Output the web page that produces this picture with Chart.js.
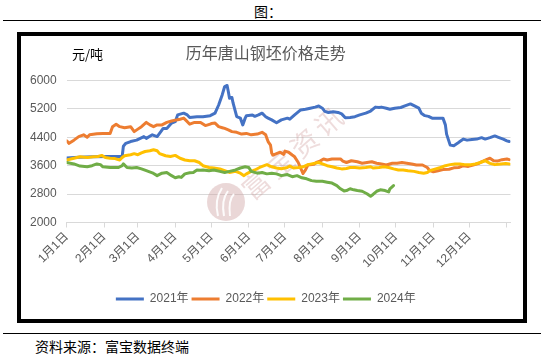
<!DOCTYPE html>
<html><head><meta charset="utf-8">
<script src="https://cdn.jsdelivr.net/npm/chart.js@4/dist/chart.umd.min.js"></script>
<style>
html,body{margin:0;padding:0;background:#fff;width:550px;height:361px;overflow:hidden;}
body{position:relative;font-family:"Noto Sans CJK SC","Liberation Sans",sans-serif;}
#hdr{position:absolute;left:0;width:536px;top:3px;text-align:center;font-size:14px;color:#000;line-height:16px;}
.rule{position:absolute;left:3px;width:538px;height:0;border-top:1.5px solid #000;}
#box{position:absolute;left:17px;top:32px;width:502px;height:283px;border:4px solid #000;}
#wrap{position:absolute;left:0;top:0;width:502px;height:283px;}
#unit{position:absolute;left:51px;top:10px;font-size:13px;color:#000;line-height:16px;}
#src{position:absolute;left:35px;top:338px;font-size:14px;color:#000;line-height:16px;}
</style></head>
<body>
<div id="hdr">图：</div>
<div class="rule" style="top:20px"></div>
<div id="box"><div id="wrap"><canvas id="c" width="502" height="283"></canvas></div><div id="unit">元/吨</div></div>
<div class="rule" style="top:333px"></div>
<div id="src">资料来源：富宝数据终端</div>
<script>
const chartTitle = '历年唐山钢坯价格走势';
const seriesNames = ['2021年','2022年','2023年','2024年'];
const seriesColors = ['#4472C4','#ED7D31','#FFC000','#70AD47'];
const monthStartDays = [0,31,59,90,120,151,181,212,243,273,304,334,365];
const monthLabels = ['1月1日','2月1日','3月1日','4月1日','5月1日','6月1日','7月1日','8月1日','9月1日','10月1日','11月1日','12月1日',''];
const yTicks = [2000,2800,3600,4400,5200,6000];

// [day of year, price]
const s2021 = [[0,3820],[10,3840],[22,3850],[35,3860],[46,3860],[47,4150],[49,4230],[53,4280],[58,4320],[64,4420],[66,4370],[71,4470],[75,4420],[77,4510],[80,4650],[83,4650],[87,4800],[90,4840],[92,5030],[97,5080],[100,5030],[102,4960],[108,4980],[113,4980],[119,5010],[123,5080],[126,5310],[129,5600],[131,5830],[133,5860],[134,5690],[135,5500],[137,5520],[138,5360],[141,4980],[144,4940],[146,4750],[148,4940],[149,5010],[154,5030],[156,4990],[159,5030],[162,5080],[165,4980],[167,4940],[170,4890],[174,4810],[178,4890],[183,4940],[185,4910],[189,5030],[194,5170],[198,5190],[202,5220],[206,5250],[209,5280],[212,5220],[214,5130],[217,5100],[221,5120],[225,5100],[228,5060],[231,4950],[235,4960],[239,4980],[243,5030],[248,5080],[252,5140],[256,5250],[259,5240],[261,5250],[265,5220],[268,5190],[272,5220],[277,5240],[281,5290],[285,5340],[288,5290],[292,5220],[294,5080],[297,5010],[300,4990],[303,4940],[312,4940],[314,4750],[315,4490],[318,4180],[321,4165],[324,4230],[326,4280],[329,4350],[332,4320],[336,4340],[340,4350],[344,4390],[347,4350],[351,4390],[355,4440],[358,4400],[362,4350],[365,4300],[367,4280]];
const s2022 = [[0,4300],[2,4230],[6,4320],[10,4420],[14,4470],[17,4400],[19,4470],[25,4500],[30,4510],[36,4510],[38,4700],[41,4770],[44,4700],[48,4670],[53,4700],[56,4560],[59,4630],[62,4700],[66,4820],[69,4750],[72,4700],[75,4750],[79,4750],[83,4820],[87,4860],[91,4890],[94,4910],[97,4940],[100,4840],[102,4770],[106,4820],[111,4820],[115,4730],[119,4770],[120,4790],[123,4800],[126,4700],[129,4670],[131,4650],[134,4610],[137,4560],[141,4540],[145,4490],[149,4510],[153,4470],[158,4490],[162,4540],[165,4470],[166,4370],[167,4280],[169,4180],[170,3950],[171,3900],[174,3940],[177,3980],[180,3920],[181,4010],[184,3980],[187,3900],[189,3850],[192,3690],[194,3530],[196,3380],[198,3480],[200,3620],[205,3640],[207,3690],[210,3730],[213,3790],[216,3760],[220,3790],[224,3790],[227,3790],[229,3730],[232,3690],[236,3740],[241,3710],[245,3670],[249,3690],[253,3710],[257,3670],[261,3650],[265,3620],[270,3670],[274,3670],[278,3690],[282,3670],[286,3650],[290,3620],[295,3620],[299,3550],[301,3460],[304,3430],[308,3460],[312,3490],[317,3500],[321,3540],[325,3550],[329,3600],[333,3580],[337,3620],[342,3670],[344,3710],[348,3770],[351,3810],[354,3740],[357,3730],[361,3770],[365,3790],[367,3770]];
const s2023 = [[0,3760],[6,3810],[11,3850],[17,3830],[22,3850],[26,3860],[29,3890],[32,3830],[36,3810],[40,3800],[44,3760],[46,3830],[48,3880],[53,3910],[56,3940],[59,3910],[62,3960],[65,4000],[69,4020],[72,4050],[75,4020],[77,3940],[82,3880],[86,3860],[90,3890],[94,3810],[98,3760],[102,3740],[106,3740],[110,3690],[113,3600],[118,3550],[122,3535],[127,3510],[131,3460],[135,3410],[140,3440],[144,3390],[147,3320],[149,3370],[153,3440],[156,3480],[160,3550],[166,3630],[170,3570],[174,3535],[178,3515],[183,3550],[185,3590],[188,3535],[192,3550],[196,3570],[200,3630],[205,3665],[209,3690],[212,3650],[216,3600],[220,3570],[224,3535],[228,3510],[232,3520],[235,3550],[239,3550],[243,3535],[248,3550],[252,3570],[254,3535],[259,3550],[263,3570],[267,3550],[271,3510],[275,3480],[279,3480],[283,3460],[288,3440],[292,3410],[296,3390],[299,3410],[301,3460],[306,3510],[310,3550],[314,3600],[318,3630],[322,3650],[326,3650],[330,3630],[335,3630],[339,3650],[343,3690],[347,3740],[351,3665],[355,3630],[360,3650],[364,3665],[367,3650]];
const s2024 = [[0,3690],[6,3650],[11,3590],[17,3570],[21,3600],[25,3650],[28,3630],[30,3570],[36,3550],[43,3550],[46,3600],[47,3650],[50,3550],[54,3535],[58,3550],[62,3510],[66,3460],[71,3400],[75,3320],[79,3390],[83,3410],[87,3320],[90,3260],[93,3290],[95,3270],[98,3370],[102,3400],[105,3410],[108,3480],[111,3470],[113,3480],[118,3460],[122,3480],[127,3440],[131,3410],[135,3440],[140,3480],[144,3535],[148,3570],[151,3550],[153,3440],[158,3390],[162,3410],[166,3370],[170,3390],[174,3370],[178,3320],[183,3350],[187,3290],[191,3320],[195,3260],[199,3230],[203,3180],[207,3160],[212,3160],[216,3135],[220,3110],[224,3040],[227,2950],[230,2890],[232,2900],[235,2950],[238,2920],[241,2900],[245,2880],[249,2810],[252,2740],[254,2790],[257,2880],[260,2920],[264,2900],[267,2860],[268,2950],[271,3040]];
const allSeries = [s2021, s2022, s2023, s2024];

const FONT = '"Liberation Sans","Noto Sans CJK SC",sans-serif';
const CJK = '"Noto Sans CJK SC","Liberation Sans",sans-serif';

const watermark = {
  id: 'watermark',
  beforeDatasetsDraw(chart) {
    const ctx = chart.ctx;
    ctx.save();
    const cx = 205, cy = 166, r = 19;
    ctx.fillStyle = 'rgba(205,160,160,0.42)';
    ctx.beginPath(); ctx.arc(cx, cy, r, 0, Math.PI*2); ctx.fill();
    ctx.strokeStyle = 'rgba(255,255,255,0.9)'; ctx.lineWidth = 2;
    for (let k = 0; k < 3; k++) {
      ctx.beginPath();
      ctx.moveTo(cx - 8 + k*6, cy + 14);
      ctx.quadraticCurveTo(cx - 12 + k*7, cy - 2, cx - 4 + k*6, cy - 14 + k*3);
      ctx.stroke();
    }
    ctx.fillStyle = 'rgba(200,140,140,0.30)';
    ctx.font = '27px ' + CJK;
    ctx.textAlign = 'center'; ctx.textBaseline = 'middle';
    const chars = '富宝资讯';
    const ang = -41 * Math.PI / 180;
    const x0 = 235, y0 = 149, step = 32;
    for (let i = 0; i < chars.length; i++) {
      ctx.save();
      ctx.translate(x0 + Math.cos(ang)*step*i, y0 + Math.sin(ang)*step*i);
      ctx.rotate(ang);
      ctx.fillText(chars[i], 0, 0);
      ctx.restore();
    }
    ctx.restore();
  }
};

new Chart(document.getElementById('c'), {
  type: 'line',
  data: {
    datasets: allSeries.map((s, i) => ({
      label: seriesNames[i],
      data: s.map(p => ({x: p[0], y: p[1]})),
      borderColor: seriesColors[i],
      backgroundColor: seriesColors[i],
      borderWidth: 3,
      pointRadius: 0,
      tension: 0,
      borderJoinStyle: 'round',
      borderCapStyle: 'round',
      order: allSeries.length - i
    }))
  },
  options: {
    responsive: false,
    animation: false,
    devicePixelRatio: 1,
    layout: { padding: { left: 0, right: 12.5, top: 0, bottom: 4 } },
    plugins: {
      tooltip: { enabled: false },
      title: {
        display: true, text: chartTitle, color: '#595959',
        font: { size: 16, family: CJK, weight: 'normal' },
        padding: { top: 7, bottom: 18.3 }
      },
      legend: {
        position: 'bottom',
        labels: {
          boxWidth: 28, boxHeight: 3, padding: 3, color: '#595959',
          font: { size: 12, family: FONT },
          generateLabels: (chart) => chart.data.datasets.map((ds, i) => ({
            text: ds.label, fillStyle: ds.borderColor, strokeStyle: ds.borderColor,
            lineWidth: 0, hidden: false, datasetIndex: i, fontColor: '#595959'
          }))
        }
      }
    },
    scales: {
      x: {
        type: 'linear', min: 0, max: 368,
        afterBuildTicks: (s) => { s.ticks = monthStartDays.map(v => ({value: v})); },
        afterFit: (s) => { s.height = 67.5; },
        ticks: {
          autoSkip: false, maxRotation: 45, minRotation: 45, padding: 2,
          color: '#595959', font: { size: 12, family: FONT },
          callback: (v, i) => monthLabels[i]
        },
        grid: { display: true, drawOnChartArea: false, drawTicks: true, tickLength: 5, color: '#d9d9d9' },
        border: { display: true, color: '#d9d9d9', width: 1 }
      },
      y: {
        type: 'linear', min: 2000, max: 6000,
        afterBuildTicks: (s) => { s.ticks = yTicks.map(v => ({value: v})); },
        afterFit: (s) => { s.width = 45.7; },
        ticks: { padding: 10, color: '#595959', font: { size: 12, family: FONT }, callback: (v) => String(v) },
        grid: { color: '#d9d9d9', drawTicks: false, lineWidth: 1 },
        border: { display: false }
      }
    }
  },
  plugins: [watermark]
});
</script>
</body></html>
